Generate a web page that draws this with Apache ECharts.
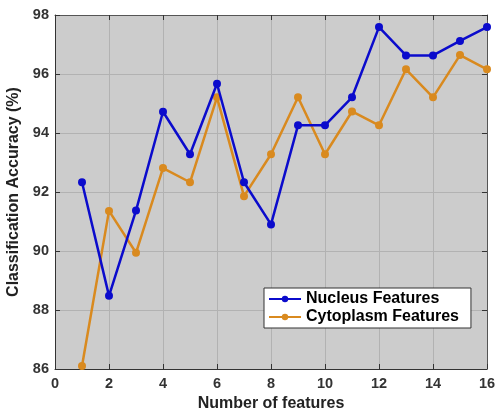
<!DOCTYPE html>
<html>
<head>
<meta charset="utf-8">
<script src="https://cdn.jsdelivr.net/npm/echarts@6/dist/echarts.min.js"></script>
<style>html,body{margin:0;padding:0;background:#fff}#c{width:495px;height:408px}</style>
</head>
<body>
<div id="c"></div>
<script>
var featureCounts = [1,2,3,4,5,6,7,8,9,10,11,12,13,14,15,16];
var nucleusValues = [92.33,88.48,91.37,94.72,93.28,95.67,92.33,90.9,94.26,94.26,95.21,97.59,96.63,96.63,97.12,97.59];
var cytoplasmValues = [86.1,91.36,89.94,92.81,92.33,95.21,91.86,93.28,95.21,93.28,94.73,94.26,96.16,95.21,96.64,96.16];
var seriesNames = ['Nucleus Features','Cytoplasm Features'];

function pairs(vals){ return featureCounts.map(function(x,i){ return [x, vals[i]]; }); }

var chart = echarts.init(document.getElementById('c'), null, {renderer:'canvas'});
var fontFam = '"Liberation Sans", Arial, sans-serif';
var axisCommon = {
  axisLine:{show:true, onZero:false, lineStyle:{color:'#333', width:1}},
  axisTick:{show:true, inside:true, length:5, lineStyle:{color:'#333'}},
  axisLabel:{color:'#333', fontSize:14.5, fontWeight:'bold', fontFamily:fontFam},
  splitLine:{show:true, lineStyle:{color:'#b2b2b2', width:1}}
};
chart.setOption({
  animation:false,
  backgroundColor:'#ffffff',
  grid:{left:55, right:8, top:15, bottom:39, show:true, backgroundColor:'#cccccc', borderWidth:0,
    containLabel:false, outerBoundsMode:'none'},
  legend:{
    data:seriesNames, orient:'vertical', left:264, top:288,
    padding:[3,12,3,4], itemGap:2, itemWidth:32, itemHeight:8,
    backgroundColor:'#ffffff', borderColor:'#333', borderWidth:1,
    textStyle:{color:'#000', fontSize:16, fontWeight:'bold', fontFamily:fontFam}
  },
  xAxis:[
    Object.assign({}, axisCommon, {type:'value', min:0, max:16, interval:2, position:'bottom',
      name:'Number of features', nameLocation:'middle', nameGap:23,
      nameTextStyle:{color:'#222', fontSize:16, fontWeight:'bold', fontFamily:fontFam},
      axisLabel:Object.assign({}, axisCommon.axisLabel, {margin:7})}),
    {type:'value', min:0, max:16, interval:2, position:'top',
      axisLine:{show:true, onZero:false, lineStyle:{color:'#555'}},
      axisTick:{show:true, inside:true, length:5, lineStyle:{color:'#333'}},
      axisLabel:{show:false}, splitLine:{show:false}}
  ],
  yAxis:[
    Object.assign({}, axisCommon, {type:'value', min:86, max:98, interval:2, position:'left',
      name:'Classification Accuracy (%)', nameLocation:'middle', nameGap:27,
      nameTextStyle:{color:'#222', fontSize:16, fontWeight:'bold', fontFamily:fontFam},
      axisLabel:Object.assign({}, axisCommon.axisLabel, {margin:6})}),
    {type:'value', min:86, max:98, interval:2, position:'right',
      axisLine:{show:true, onZero:false, lineStyle:{color:'#555'}},
      axisTick:{show:true, inside:true, length:5, lineStyle:{color:'#333'}},
      axisLabel:{show:false}, splitLine:{show:false}}
  ],
  series:[
    {name:seriesNames[0], type:'line', data:pairs(nucleusValues), symbol:'circle', symbolSize:8,
      lineStyle:{color:'#0b0bcc', width:2.5}, itemStyle:{color:'#0b0bcc'}, z:3},
    {name:seriesNames[1], type:'line', data:pairs(cytoplasmValues), symbol:'circle', symbolSize:8,
      lineStyle:{color:'#d98a1f', width:2.5}, itemStyle:{color:'#d98a1f'}, z:2}
  ]
});
</script>
</body>
</html>
